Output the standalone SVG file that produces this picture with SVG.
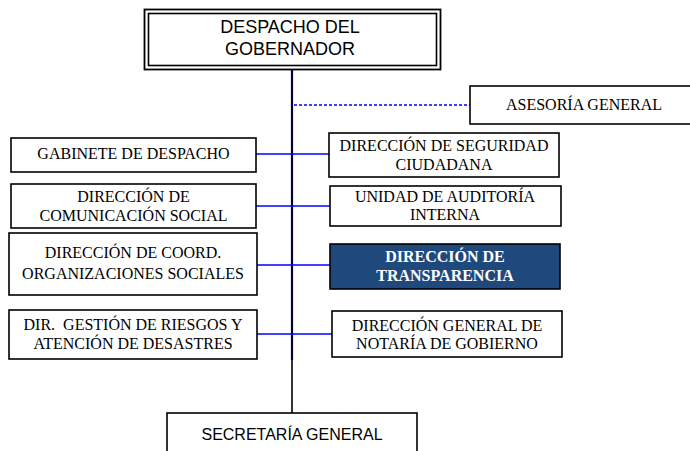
<svg xmlns="http://www.w3.org/2000/svg" width="690" height="451" viewBox="0 0 690 451">
<style>
.box{fill:#fff;stroke:#000;stroke-width:1.6}
.s{font-family:"Times New Roman","Liberation Serif",serif;font-size:16px;fill:#000;text-anchor:middle}
.a{font-family:Arial,"Liberation Sans",sans-serif;fill:#000;text-anchor:middle}
.c{stroke:#0000ff;stroke-width:1.6;fill:none}
</style>
<rect width="690" height="451" fill="#fff"/>
<g id="connectors">
<line x1="292" y1="69" x2="292" y2="360" stroke="#00003a" stroke-width="2.2"/>
<line x1="292" y1="360" x2="292" y2="413" stroke="#000" stroke-width="1.6"/>
<line class="c" x1="294" y1="105" x2="470" y2="105" stroke-dasharray="3,2"/>
<line class="c" x1="256" y1="154" x2="329" y2="154"/>
<line class="c" x1="256" y1="206" x2="330" y2="206"/>
<line class="c" x1="257" y1="265" x2="330" y2="265"/>
<line class="c" x1="257" y1="334" x2="332" y2="334"/>
</g>
<g id="despacho">
<rect x="144.5" y="9.5" width="296" height="60" fill="#fff" stroke="#000" stroke-width="1.8"/>
<rect x="148.5" y="13.5" width="288" height="52" fill="none" stroke="#000" stroke-width="1.6"/>
<text class="a" x="290" y="33" font-size="18">DESPACHO DEL</text>
<text class="a" x="290" y="55" font-size="18">GOBERNADOR</text>
</g>
<g id="asesoria">
<rect class="box" x="470" y="86" width="230" height="38"/>
<text class="s" x="584" y="110">ASESORÍA GENERAL</text>
</g>
<g id="gabinete">
<rect class="box" x="11" y="138" width="245" height="34"/>
<text class="s" x="133.5" y="159">GABINETE DE DESPACHO</text>
</g>
<g id="comunicacion">
<rect class="box" x="11" y="184" width="245" height="44"/>
<text class="s" x="133.5" y="202">DIRECCIÓN DE</text>
<text class="s" x="133.5" y="221">COMUNICACIÓN SOCIAL</text>
</g>
<g id="coord">
<rect class="box" x="9" y="233" width="248" height="62"/>
<text class="s" x="133" y="258">DIRECCIÓN DE COORD.</text>
<text class="s" x="133" y="279">ORGANIZACIONES SOCIALES</text>
</g>
<g id="riesgos">
<rect class="box" x="9" y="310" width="248" height="49"/>
<text class="s" x="133" y="330" style="white-space:pre" xml:space="preserve">DIR.  GESTIÓN DE RIESGOS Y</text>
<text class="s" x="133" y="349">ATENCIÓN DE DESASTRES</text>
</g>
<g id="seguridad">
<rect class="box" x="329" y="133" width="230" height="44"/>
<text class="s" x="444" y="151">DIRECCIÓN DE SEGURIDAD</text>
<text class="s" x="444" y="170">CIUDADANA</text>
</g>
<g id="auditoria">
<rect class="box" x="330" y="186" width="231" height="40"/>
<text class="s" x="445" y="202">UNIDAD DE AUDITORÍA</text>
<text class="s" x="445" y="220">INTERNA</text>
</g>
<g id="transparencia">
<rect x="330" y="244" width="230" height="45" fill="#1f497d" stroke="#000" stroke-width="1.6"/>
<text class="s" x="445" y="262" style="fill:#fff;font-weight:bold">DIRECCIÓN DE</text>
<text class="s" x="445" y="281" style="fill:#fff;font-weight:bold">TRANSPARENCIA</text>
</g>
<g id="notaria">
<rect class="box" x="332" y="311" width="230" height="46"/>
<text class="s" x="447" y="331">DIRECCIÓN GENERAL DE</text>
<text class="s" x="447" y="349">NOTARÍA DE GOBIERNO</text>
</g>
<g id="secretaria">
<rect class="box" x="167" y="413" width="250" height="50"/>
<text class="a" x="292" y="440" font-size="16">SECRETARÍA GENERAL</text>
</g>
</svg>
